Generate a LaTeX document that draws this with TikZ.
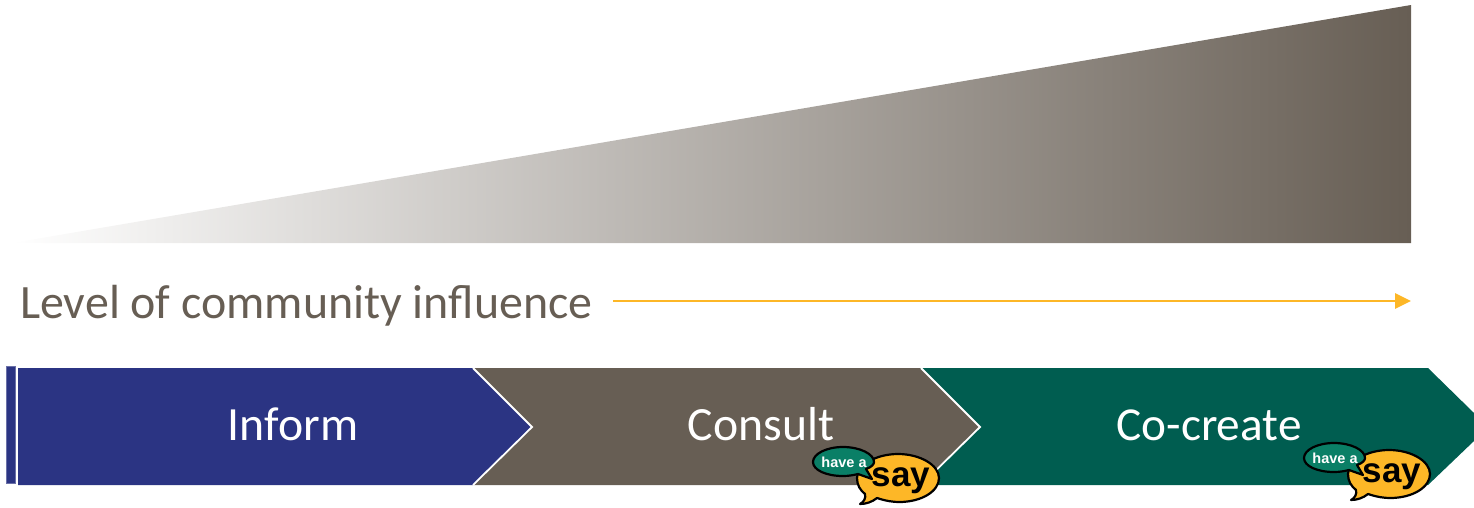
\documentclass[tikz,border=0pt]{standalone}
\usepackage{fontspec}
\setmainfont{Carlito}
\newfontfamily\bubblefont{Liberation Sans}
\usetikzlibrary{arrows.meta}
\definecolor{navy}{HTML}{2B3483}
\definecolor{taupe}{HTML}{675E54}
\definecolor{forest}{HTML}{005D50}
\definecolor{sunny}{HTML}{FDB727}
\definecolor{bubblegreen}{HTML}{0A7F66}
\tikzset{
  seam/.style={draw=white,line width=1.8pt,line join=miter},
  chevlabel/.style={text=white,font=\fontsize{47.7}{50}\selectfont,anchor=base,inner sep=0pt},
  bubbleline/.style={draw=black,line width=2.2pt,line join=round},
}
\newcommand{\sayBubble}[3]{%
  \begin{scope}[shift={(#1,#2)}]
    \path[bubbleline,fill=sunny] (-21,21)
      .. controls (-12,24) and (-5,25) .. (1,25)
      .. controls (24,25) and (41,14) .. (41,1)
      .. controls (41,-12) and (22,-23) .. (0,-23)
      .. controls (-22,-23) and (-41,-12) .. (-41,1)
      .. controls (-41,8) and (-38,13) .. (-33,17)
      .. controls (-32,21) and (-34,25) .. (-38,27)
      .. controls (-32,27) and (-26,25) .. (-21,21) -- cycle;
    \path[bubbleline,fill=bubblegreen] (-55,-30) .. controls (-72,-30) and (-85,-23) .. (-85,-15)
      .. controls (-85,-7) and (-72,-1) .. (-55,-1)
      .. controls (-49,-1) and (-44,-2) .. (-40,-3)
      -- (-26,2) -- (-32,-8)
      .. controls (-26,-10) and (-24,-13) .. (-24,-15)
      .. controls (-24,-23) and (-38,-30) .. (-55,-30) -- cycle;
    \node[text=white,inner sep=0pt,font=\bubblefont\bfseries\fontsize{14.5}{17}\selectfont] (#3h) at (-54,-15) {have a};
    \node[text=black,inner sep=0pt,font=\bubblefont\bfseries\fontsize{35}{38}\selectfont] (#3s) at (3,4) {say};
  \end{scope}}
\begin{document}
\begin{tikzpicture}[x=1pt,y=-1pt]
\useasboundingbox (0,0) rectangle (1474,507);
% wedge
\begin{scope}
  \clip (12,243) -- (1411,5) -- (1411,243) -- cycle;
  \shade[left color=white,right color=taupe,shading angle=90] (12,5) rectangle (1411,243);
\end{scope}
% label and arrow
\node[anchor=base west,inner sep=0pt,text=taupe,font=\fontsize{47.9}{50}\selectfont] (lvl) at (20,318) {Level of community influence};
\coordinate (arrS) at (613,301);
\coordinate (arrE) at (1411,301);
\draw[sunny,line width=2.8pt,-{Triangle[length=16pt,width=15pt]}] (arrS) -- (arrE);
% bar
\fill[navy,draw=navy!70!white,line width=0.5pt] (6,366) rectangle (15,483);
% chevrons
\fill[forest] (921,368) -- (1428,368) -- (1474,413) -- (1474,441) -- (1428,485) -- (921,485) -- (980,427) -- cycle;
\fill[taupe] (473,368) -- (921,368) -- (980,427) -- (921,485) -- (473,485) -- (532,427) -- cycle;
\fill[navy] (18,368) -- (473,368) -- (532,427) -- (473,485) -- (18,485) -- cycle;
\path[seam] (473,368) -- (532,427) -- (473,485);
\path[seam] (921,368) -- (980,427) -- (921,485);
\node[chevlabel] (inform) at (293,440) {Inform};
\node[chevlabel] (consult) at (761,440) {Consult};
\node[chevlabel,font=\fontsize{47.3}{50}\selectfont] (cocreate) at (1209,440) {Co-create};
\sayBubble{898}{477}{a}
\sayBubble{1389}{473}{b}
\end{tikzpicture}
\end{document}
